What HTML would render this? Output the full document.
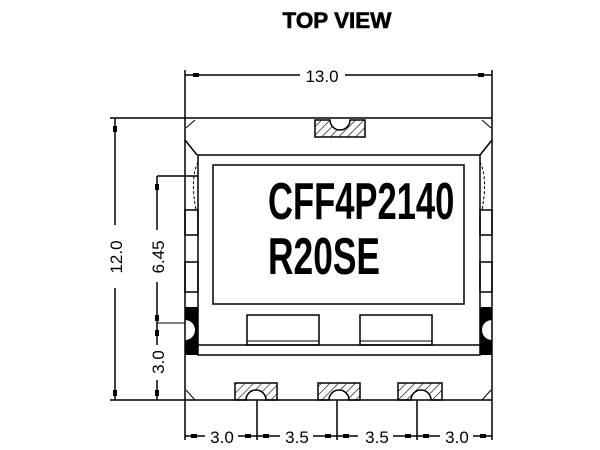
<!DOCTYPE html>
<html><head><style>
body{margin:0;background:#fff;width:600px;height:450px;overflow:hidden}
svg{display:block}
text{font-family:"Liberation Sans",sans-serif}
</style></head><body>
<svg width="600" height="450" viewBox="0 0 600 450" xmlns="http://www.w3.org/2000/svg">
<defs>
<pattern id="h" width="6" height="6" patternUnits="userSpaceOnUse" patternTransform="rotate(45)">
<line x1="0" y1="0" x2="0" y2="6" stroke="#000" stroke-width="1.2"/>
</pattern>
</defs>
<text x="0" y="28" text-anchor="middle" font-weight="bold" font-size="22" transform="translate(337 0) scale(1.02 1)" stroke="#000" stroke-width="0.6">TOP VIEW</text>
<g stroke="#000" stroke-width="1.5" fill="none">
<line x1="185" y1="75" x2="300" y2="75"/><line x1="345" y1="75" x2="492" y2="75"/>
<line x1="185" y1="70" x2="185" y2="118"/><line x1="492" y1="70" x2="492" y2="118"/>
<line x1="110" y1="118" x2="492" y2="118"/>
<line x1="110" y1="400" x2="492" y2="400"/>
<path d="M185 118 V140 L197 155 M492 118 V140 L480 155"/>
<line x1="185" y1="140" x2="185" y2="400"/>
<line x1="492" y1="140" x2="492" y2="400"/>
<rect x="198" y="155" width="282" height="200"/>
<line x1="185" y1="345" x2="492" y2="345"/>
<rect x="213" y="165" width="251" height="139"/>
<rect x="247" y="315" width="72" height="30"/>
<rect x="360" y="315" width="72" height="30"/>
<line x1="247" y1="341" x2="319" y2="341" stroke-width="1"/>
<line x1="360" y1="341" x2="432" y2="341" stroke-width="1"/>
<rect x="185" y="210" width="13" height="25"/><rect x="185" y="262" width="13" height="30"/>
<rect x="480" y="210" width="12" height="25"/><rect x="480" y="262" width="12" height="30"/>
<path d="M198 162 Q190 178 196 210 M480 162 Q488 178 482 210" stroke-dasharray="3 2" stroke-width="1"/>
<line x1="115" y1="118" x2="115" y2="225"/><line x1="115" y1="288" x2="115" y2="400"/>
<line x1="157" y1="176" x2="198" y2="176"/>
<line x1="157" y1="176" x2="157" y2="230"/><line x1="157" y1="282" x2="157" y2="345"/>
<line x1="157" y1="380" x2="157" y2="400"/>
<line x1="157" y1="323" x2="185" y2="323" stroke-width="1"/>
<line x1="185" y1="400" x2="185" y2="440"/><line x1="492" y1="400" x2="492" y2="440"/>
<line x1="257" y1="400" x2="257" y2="440"/><line x1="337" y1="400" x2="337" y2="440"/><line x1="417" y1="400" x2="417" y2="440"/>
<line x1="185" y1="436" x2="205" y2="436"/><line x1="238" y1="436" x2="280" y2="436"/>
<line x1="313" y1="436" x2="358" y2="436"/><line x1="393" y1="436" x2="440" y2="436"/><line x1="473" y1="436" x2="492" y2="436"/>
<path d="M186 390 L195 400 M491 390 L482 400 M186 128 L195 120 M491 128 L482 120" stroke-width="1"/>
</g>
<path d="M185 307 H198 V355 H185 V340 A10 10 0 0 0 185 320 Z" fill="#000"/>
<path d="M492 307 H480 V355 H492 V340 A10 10 0 0 1 492 320 Z" fill="#000"/>
<g stroke="#000" stroke-width="1.5" fill="url(#h)">
<path d="M315 120 H330 A10 10 0 0 0 350 120 H365 V137 H315 Z"/>
<path d="M235 383 H277 V400 H266 A10 10 0 0 0 246 400 H235 Z"/>
<path d="M318 383 H360 V400 H349 A10 10 0 0 0 329 400 H318 Z"/>
<path d="M398 383 H442 V400 H431 A10 10 0 0 0 411 400 H398 Z"/>
</g>
<g fill="#000">
<rect x="193" y="73" width="6" height="4"/><rect x="478" y="73" width="6" height="4"/>
<rect x="113" y="126" width="4" height="6"/><rect x="113" y="390" width="4" height="6"/>
<rect x="155" y="184" width="4" height="6"/><rect x="155" y="315" width="4" height="6"/>
<rect x="155" y="330" width="4" height="6"/><rect x="155" y="390" width="4" height="6"/>
<rect x="191" y="434" width="6" height="4"/><rect x="245" y="434" width="6" height="4"/>
<rect x="263" y="434" width="6" height="4"/><rect x="325" y="434" width="6" height="4"/>
<rect x="343" y="434" width="6" height="4"/><rect x="405" y="434" width="6" height="4"/>
<rect x="423" y="434" width="6" height="4"/><rect x="480" y="434" width="6" height="4"/>
</g>
<g font-size="17" fill="#000">
<text x="322" y="82" text-anchor="middle">13.0</text>
<text x="222" y="443" text-anchor="middle">3.0</text>
<text x="297" y="443" text-anchor="middle">3.5</text>
<text x="377" y="443" text-anchor="middle">3.5</text>
<text x="457" y="443" text-anchor="middle">3.0</text>
<text transform="translate(122 257) rotate(-90)" text-anchor="middle">12.0</text>
<text transform="translate(164 257) rotate(-90)" text-anchor="middle">6.45</text>
<text transform="translate(164 362) rotate(-90)" text-anchor="middle">3.0</text>
</g>
<g font-weight="bold" font-size="52" fill="#000">
<text x="0" y="219" transform="translate(268 0) scale(0.665 1)">CFF4P2140</text>
<text x="0" y="274" transform="translate(268 0) scale(0.68 1)">R20SE</text>
</g>
</svg>
</body></html>
